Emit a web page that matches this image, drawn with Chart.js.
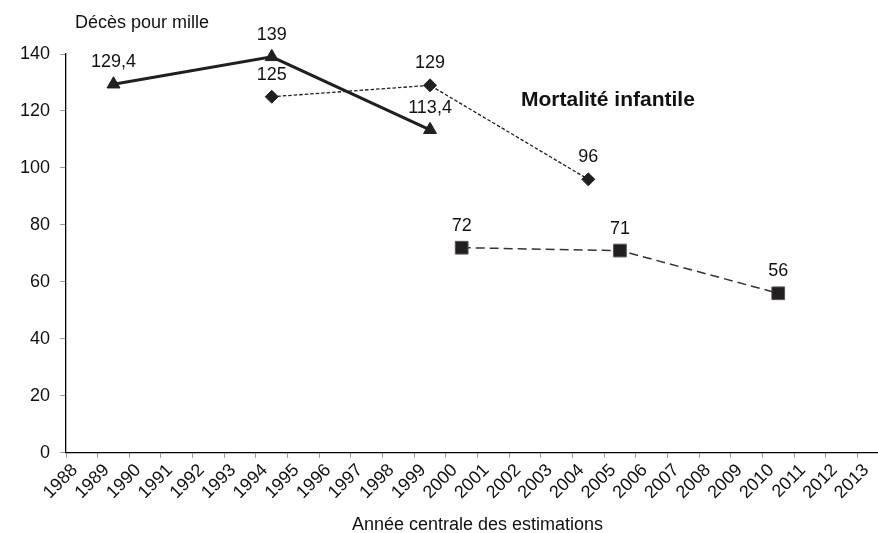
<!DOCTYPE html>
<html lang="fr">
<head>
<meta charset="utf-8">
<title>Mortalité infantile</title>
<script src="https://cdn.jsdelivr.net/npm/chart.js@4/dist/chart.umd.min.js"></script>
<style>
    html, body { margin: 0; padding: 0; background: #fff; overflow: hidden; }
    #wrap { width: 900px; height: 533px; }
</style>
</head>
<body>
<div id="wrap"><canvas id="mortaliteChart" width="900" height="533"></canvas></div>
<script>
// Années (axe des catégories)
const years = [
    '1988', '1989', '1990', '1991', '1992', '1993', '1994', '1995', '1996',
    '1997', '1998', '1999', '2000', '2001', '2002', '2003', '2004', '2005',
    '2006', '2007', '2008', '2009', '2010', '2011', '2012', '2013'
];

// Série 1 : triangles, trait plein
const triangleYears = ['1989', '1994', '1999'];
const triangleValues = [129.4, 139, 113.4];

// Série 2 : losanges, pointillé fin
const diamondYears = ['1994', '1999', '2004'];
const diamondValues = [125, 129, 96];

// Série 3 : carrés, tirets longs
const squareYears = ['2000', '2005', '2010'];
const squareValues = [72, 71, 56];

const yTicks = [0, 20, 40, 60, 80, 100, 120, 140];

const FONT = 'Liberation Sans, Arial, Helvetica, sans-serif';
const INK = '#231f20';

function toPoints(xs, ys) {
    return xs.map((x, i) => ({ x: x, y: ys[i] }));
}

function formatFr(value) {
    return String(value).replace('.', ',');
}

/**
 * Étiquettes de valeurs au-dessus des points + textes libres
 */
const annotations = {
    id: 'annotations',
    afterDatasetsDraw(chart) {
        const ctx = chart.ctx;
        const area = chart.chartArea;
        ctx.save();
        ctx.fillStyle = '#111';
        ctx.font = '18px ' + FONT;
        ctx.textAlign = 'center';
        ctx.textBaseline = 'middle';
        chart.data.datasets.forEach((ds, i) => {
            const meta = chart.getDatasetMeta(i);
            meta.data.forEach((pt, j) => {
                ctx.fillText(formatFr(ds.data[j].y), pt.x, pt.y - 22);
            });
        });

        // titre de l'axe vertical, posé à l'horizontale
        ctx.textAlign = 'left';
        ctx.textBaseline = 'alphabetic';
        ctx.font = '18px ' + FONT;
        ctx.fillText('Décès pour mille', area.left + 9, area.top - 26);

        ctx.font = 'bold 21px ' + FONT;
        ctx.fillText('Mortalité infantile', 521, 106);
        ctx.restore();
    }
};

const ctx = document.getElementById('mortaliteChart').getContext('2d');

new Chart(ctx, {
    type: 'line',
    data: {
        labels: years,
        datasets: [
            {
                label: 'Série triangles',
                data: toPoints(triangleYears, triangleValues),
                borderColor: INK,
                backgroundColor: INK,
                borderWidth: 3,
                pointStyle: 'triangle',
                pointRadius: 7.5,
                pointBorderWidth: 1,
                spanGaps: true,
                clip: false
            },
            {
                label: 'Série losanges',
                data: toPoints(diamondYears, diamondValues),
                borderColor: INK,
                backgroundColor: INK,
                borderWidth: 1.3,
                borderDash: [3.5, 2],
                pointStyle: 'rectRot',
                pointRadius: 6.5,
                pointBorderWidth: 1,
                spanGaps: true,
                clip: false
            },
            {
                label: 'Série carrés',
                data: toPoints(squareYears, squareValues),
                borderColor: '#333',
                backgroundColor: INK,
                borderWidth: 1.5,
                borderDash: [9, 5],
                pointStyle: 'rect',
                pointRadius: 9,
                pointBorderColor: '#555',
                pointBorderWidth: 1,
                spanGaps: true,
                clip: false
            }
        ]
    },
    options: {
        responsive: false,
        animation: false,
        layout: {
            padding: { top: 54, left: 10, right: 11, bottom: 0 }
        },
        scales: {
            x: {
                type: 'category',
                offset: true,
                // les étiquettes inclinées débordent à gauche, comme sur l'original
                afterFit: (scale) => {
                    scale.paddingLeft = 0;
                    scale.paddingRight = 0;
                },
                grid: {
                    offset: true,
                    drawOnChartArea: false,
                    drawTicks: true,
                    tickLength: 5,
                    color: '#9a9a9a'
                },
                border: { color: '#000', width: 1.3 },
                ticks: {
                    autoSkip: false,
                    minRotation: 45,
                    maxRotation: 45,
                    padding: 2,
                    labelOffset: -7,
                    color: '#111',
                    font: { family: FONT, size: 18 }
                },
                title: {
                    display: true,
                    text: 'Année centrale des estimations',
                    color: '#111',
                    font: { family: FONT, size: 18 },
                    padding: { top: 9, bottom: -3 }
                }
            },
            y: {
                min: 0,
                max: 140,
                afterBuildTicks: (axis) => {
                    axis.ticks = yTicks.map(v => ({ value: v }));
                },
                grid: {
                    drawOnChartArea: false,
                    drawTicks: true,
                    tickLength: 6,
                    color: '#9a9a9a'
                },
                border: { color: '#000', width: 1.3 },
                ticks: {
                    padding: 10,
                    color: '#111',
                    font: { family: FONT, size: 18 }
                }
            }
        },
        plugins: {
            legend: { display: false },
            tooltip: { enabled: false }
        }
    },
    plugins: [annotations]
});
</script>
</body>
</html>
